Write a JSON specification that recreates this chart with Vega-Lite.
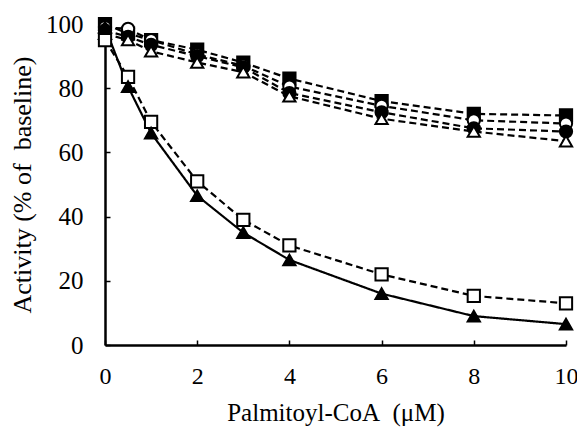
{
  "$schema": "https://vega.github.io/schema/vega-lite/v6.json",
  "width": 461,
  "height": 321,
  "autosize": "none",
  "padding": {"left": 105, "top": 24, "right": 11, "bottom": 85},
  "background": "white",
  "config": {
    "view": {"stroke": null},
    "font": "Liberation Serif",
    "axis": {
      "labelColor": "black",
      "titleColor": "black",
      "domainColor": "black",
      "domainWidth": 2.5,
      "tickColor": "black",
      "tickWidth": 1.5,
      "grid": false,
      "labelFlush": false
    }
  },
  "data": {
    "values": [
      {"x": 0, "y": 100, "s": "A"}, {"x": 0.5, "y": 97, "s": "A"}, {"x": 1, "y": 95, "s": "A"}, {"x": 2, "y": 92, "s": "A"}, {"x": 3, "y": 88, "s": "A"}, {"x": 4, "y": 83, "s": "A"}, {"x": 6, "y": 76, "s": "A"}, {"x": 8, "y": 72, "s": "A"}, {"x": 10, "y": 71.5, "s": "A"},
      {"x": 0, "y": 99, "s": "B"}, {"x": 0.5, "y": 98.5, "s": "B"}, {"x": 1, "y": 95, "s": "B"}, {"x": 2, "y": 90.5, "s": "B"}, {"x": 3, "y": 87, "s": "B"}, {"x": 4, "y": 80.5, "s": "B"}, {"x": 6, "y": 74.5, "s": "B"}, {"x": 8, "y": 70, "s": "B"}, {"x": 10, "y": 69, "s": "B"},
      {"x": 0, "y": 98, "s": "C"}, {"x": 0.5, "y": 96, "s": "C"}, {"x": 1, "y": 93.5, "s": "C"}, {"x": 2, "y": 90, "s": "C"}, {"x": 3, "y": 86.5, "s": "C"}, {"x": 4, "y": 78.5, "s": "C"}, {"x": 6, "y": 72.5, "s": "C"}, {"x": 8, "y": 67.5, "s": "C"}, {"x": 10, "y": 66.5, "s": "C"},
      {"x": 0, "y": 97, "s": "D"}, {"x": 0.5, "y": 95, "s": "D"}, {"x": 1, "y": 91.5, "s": "D"}, {"x": 2, "y": 88, "s": "D"}, {"x": 3, "y": 85, "s": "D"}, {"x": 4, "y": 77.5, "s": "D"}, {"x": 6, "y": 70.5, "s": "D"}, {"x": 8, "y": 66.5, "s": "D"}, {"x": 10, "y": 63.5, "s": "D"},
      {"x": 0, "y": 95, "s": "E"}, {"x": 0.5, "y": 83.5, "s": "E"}, {"x": 1, "y": 69.5, "s": "E"}, {"x": 2, "y": 51, "s": "E"}, {"x": 3, "y": 39, "s": "E"}, {"x": 4, "y": 31, "s": "E"}, {"x": 6, "y": 22, "s": "E"}, {"x": 8, "y": 15.3, "s": "E"}, {"x": 10, "y": 13, "s": "E"},
      {"x": 0, "y": 99, "s": "F"}, {"x": 0.5, "y": 80.5, "s": "F"}, {"x": 1, "y": 66, "s": "F"}, {"x": 2, "y": 46.5, "s": "F"}, {"x": 3, "y": 35, "s": "F"}, {"x": 4, "y": 26.5, "s": "F"}, {"x": 6, "y": 16, "s": "F"}, {"x": 8, "y": 9, "s": "F"}, {"x": 10, "y": 6.5, "s": "F"}
    ]
  },
  "encoding": {
    "x": {
      "field": "x", "type": "quantitative",
      "scale": {"domain": [0, 10], "nice": false, "zero": false},
      "axis": {"values": [0, 2, 4, 6, 8, 10], "title": "Palmitoyl-CoA\u00a0\u00a0(μM)", "tickSize": -5, "labelPadding": 24, "titlePadding": 12,
        "labelFont": "Times New Roman", "titleFont": "Times New Roman", "labelFontSize": 24, "titleFontSize": 25, "titleFontWeight": "normal"}
    },
    "y": {
      "field": "y", "type": "quantitative",
      "scale": {"domain": [0, 100], "nice": false},
      "axis": {"values": [0, 20, 40, 60, 80, 100], "title": "Activity (% of\u00a0\u00a0baseline)", "tickSize": -5, "labelPadding": 27, "titlePadding": 10,
        "labelFont": "Times New Roman", "titleFont": "Times New Roman", "labelFontSize": 25, "titleFontSize": 26, "titleFontWeight": "normal"}
    }
  },
  "layer": [
    {
      "mark": {"type": "line", "strokeWidth": 2.2, "color": "black"},
      "encoding": {
        "detail": {"field": "s"},
        "strokeDash": {
          "field": "s", "type": "nominal", "legend": null,
          "scale": {"domain": ["A", "B", "C", "D", "E", "F"], "range": [[7, 4], [7, 4], [7, 4], [7, 4], [7, 4], [1, 0]]}
        }
      }
    },
    {
      "mark": {"type": "point", "filled": true, "stroke": "black", "strokeWidth": 2, "opacity": 1, "size": 150},
      "encoding": {
        "shape": {
          "field": "s", "type": "nominal", "legend": null,
          "scale": {"domain": ["A", "B", "C", "D", "E", "F"], "range": ["square", "circle", "circle", "triangle-up", "square", "triangle-up"]}
        },
        "fill": {
          "field": "s", "type": "nominal", "legend": null,
          "scale": {"domain": ["A", "B", "C", "D", "E", "F"], "range": ["black", "white", "black", "white", "white", "black"]}
        }
      }
    }
  ]
}
